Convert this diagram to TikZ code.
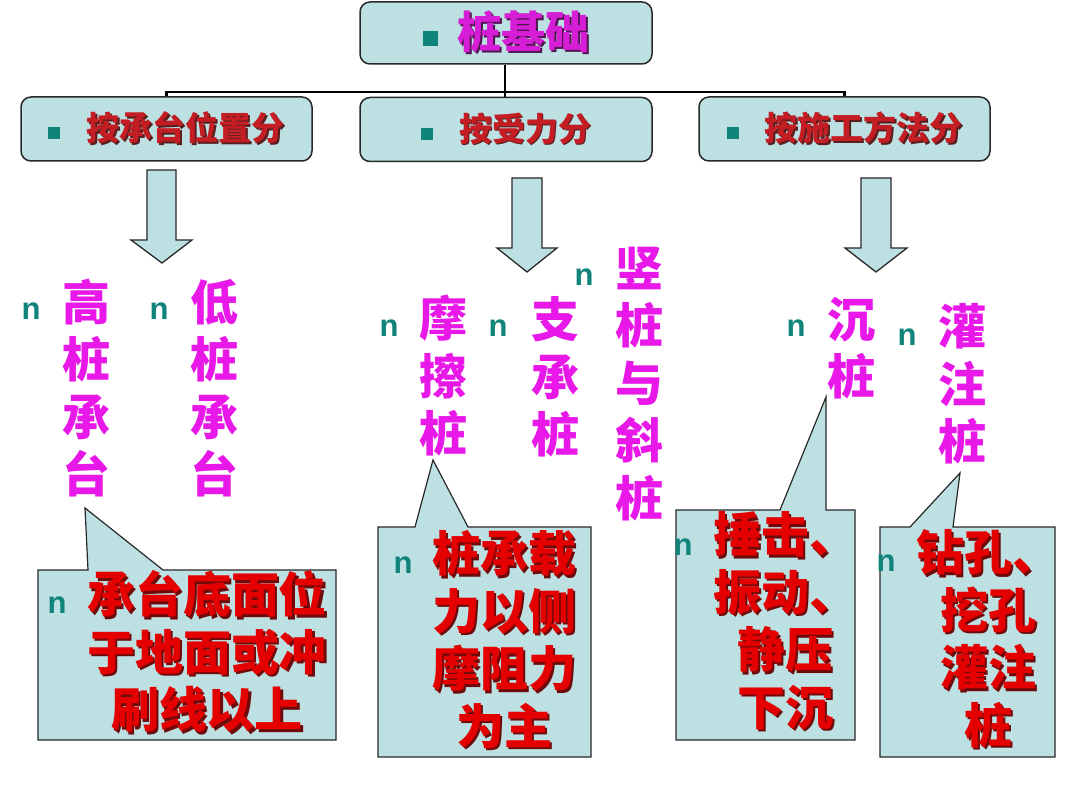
\documentclass[tikz,border=0pt]{standalone}
\usepackage{fontspec}
\newfontfamily\cjk{Noto Sans CJK SC}
\newfontfamily\lat{Liberation Sans}
\definecolor{boxc}{RGB}{189,224,227}
\definecolor{magc}{RGB}{232,24,232}
\definecolor{redc}{RGB}{228,0,0}
\definecolor{redsh}{RGB}{110,10,10}
\definecolor{hdc}{RGB}{196,30,36}
\definecolor{hdsh}{RGB}{90,30,30}
\definecolor{ttc}{RGB}{214,30,214}
\definecolor{ttsh}{RGB}{80,20,80}
\definecolor{tealc}{RGB}{16,132,122}
\definecolor{linec}{RGB}{40,40,40}
\newcommand\shtxt[3]{\leavevmode\rlap{\kern#2\raisebox{-#2}{\textcolor{#1}{#3}}}#3}
\newcommand\bsq[2]{\textcolor{tealc}{\raisebox{#2}{\rule{#1}{#1}}}}
\tikzset{
  hbox/.style={draw=linec, line width=1.5pt, fill=boxc, rounded corners=10pt, inner sep=0pt, minimum width=291pt, minimum height=64pt},
  callout/.style={draw=linec, line width=1.2pt, fill=boxc, line join=miter},
  barrow/.style={draw=linec, line width=1.3pt, fill=boxc, line join=miter},
  conn/.style={draw=black, line width=2.8pt, line join=miter},
  stack/.style={text=magc, font=\cjk\bfseries\fontsize{48}{57.5}\selectfont, align=center, inner sep=0pt},
  ctext/.style={text=redc, font=\cjk\bfseries\fontsize{48}{57.5}\selectfont, align=center, inner sep=0pt},
  nb/.style={text=tealc, font=\lat\bfseries\fontsize{31}{31}\selectfont, inner sep=0pt},
}
\begin{document}
\begin{tikzpicture}[x=1pt,y=-1pt]
\useasboundingbox[fill=white] (0,0) rectangle (1080,810);

% boxes
\node[hbox, minimum width=292pt, minimum height=62pt, text=ttc, font=\cjk\bfseries\fontsize{44}{50}\selectfont] (top) at (506,33)
  {\bsq{15pt}{3pt}\hspace{20pt}\shtxt{ttsh}{2pt}{桩基础}};
\node[hbox, text=hdc, font=\cjk\bfseries\fontsize{33}{38}\selectfont] (b1) at (166.5,129)
  {\bsq{12pt}{1.5pt}\hspace{26pt}\shtxt{hdsh}{1.8pt}{按承台位置分}};
\node[hbox, minimum width=292pt, text=hdc, font=\cjk\bfseries\fontsize{33}{38}\selectfont] (b2) at (506,129.5)
  {\bsq{12pt}{1.5pt}\hspace{26pt}\shtxt{hdsh}{1.8pt}{按受力分}};
\node[hbox, text=hdc, font=\cjk\bfseries\fontsize{33}{38}\selectfont] (b3) at (844.5,129)
  {\bsq{12pt}{1.5pt}\hspace{26pt}\shtxt{hdsh}{1.8pt}{按施工方法分}};

% connectors
\coordinate (j) at (505,92);
\draw[conn] (j |- top.south) -- (j |- b2.north);
\draw[conn] (b1.north) |- (j) -| (b3.north);

% block arrows
\draw[barrow] (147,170) -- (176,170) -- (176,240) -- (192,240) -- (162,263) -- (131,240) -- (147,240) -- cycle;
\draw[barrow] (512,178) -- (542,178) -- (542,248) -- (557,248) -- (527,272) -- (497,248) -- (512,248) -- cycle;
\draw[barrow] (861,178) -- (891,178) -- (891,248) -- (907,248) -- (876,272) -- (845,248) -- (861,248) -- cycle;

% vertical item texts
\node[stack] (gao) at (86,388) {高\\桩\\承\\台};
\node[stack] (di) at (214,388) {低\\桩\\承\\台};
\node[stack] (mo) at (443,376) {摩\\擦\\桩};
\node[stack] (zhi) at (555,377) {支\\承\\桩};
\node[stack] (shu) at (639,384) {竖\\桩\\与\\斜\\桩};
\node[stack] (chen) at (851,348) {沉\\桩};
\node[stack] (guan) at (962,384) {灌\\注\\桩};

\node[nb] (n1) at (31,311) {n};
\node[nb] (n2) at (159,311) {n};
\node[nb] (n3) at (389,328) {n};
\node[nb] (n4) at (498,328) {n};
\node[nb] (n5) at (584,277) {n};
\node[nb] (n6) at (796,328) {n};
\node[nb] (n7) at (907,337) {n};

% callouts
\draw[callout] (38,570) -- (88,570) -- (85,508) -- (163,570) -- (336,570) -- (336,740) -- (38,740) -- cycle;
\draw[callout] (378,527) -- (415,527) -- (433,460) -- (468,527) -- (591,527) -- (591,757) -- (378,757) -- cycle;
\draw[callout] (676,510) -- (780,510) -- (826,397) -- (826,510) -- (855,510) -- (855,740) -- (676,740) -- cycle;
\draw[callout] (880,527) -- (910,527) -- (960,473) -- (953,527) -- (1055,527) -- (1055,757) -- (880,757) -- cycle;

\node[ctext] (c1) at (207,653) {\shtxt{redsh}{2.5pt}{承台底面位}\\\shtxt{redsh}{2.5pt}{于地面或冲}\\\shtxt{redsh}{2.5pt}{刷线以上}};
\node[ctext] (c2) at (504,641) {\shtxt{redsh}{2.5pt}{桩承载}\\\shtxt{redsh}{2.5pt}{力以侧}\\\shtxt{redsh}{2.5pt}{摩阻力}\\\shtxt{redsh}{2.5pt}{为主}};
\node[ctext] (c3) at (785,622) {\shtxt{redsh}{2.5pt}{捶击、}\\\shtxt{redsh}{2.5pt}{振动、}\\\shtxt{redsh}{2.5pt}{静压}\\\shtxt{redsh}{2.5pt}{下沉}};
\node[ctext] (c4) at (988,640) {\shtxt{redsh}{2.5pt}{钻孔、}\\\shtxt{redsh}{2.5pt}{挖孔}\\\shtxt{redsh}{2.5pt}{灌注}\\\shtxt{redsh}{2.5pt}{桩}};

\node[nb] (m1) at (57,605) {n};
\node[nb] (m2) at (403,565) {n};
\node[nb] (m3) at (683,547) {n};
\node[nb] (m4) at (886,563) {n};
\end{tikzpicture}
\end{document}
